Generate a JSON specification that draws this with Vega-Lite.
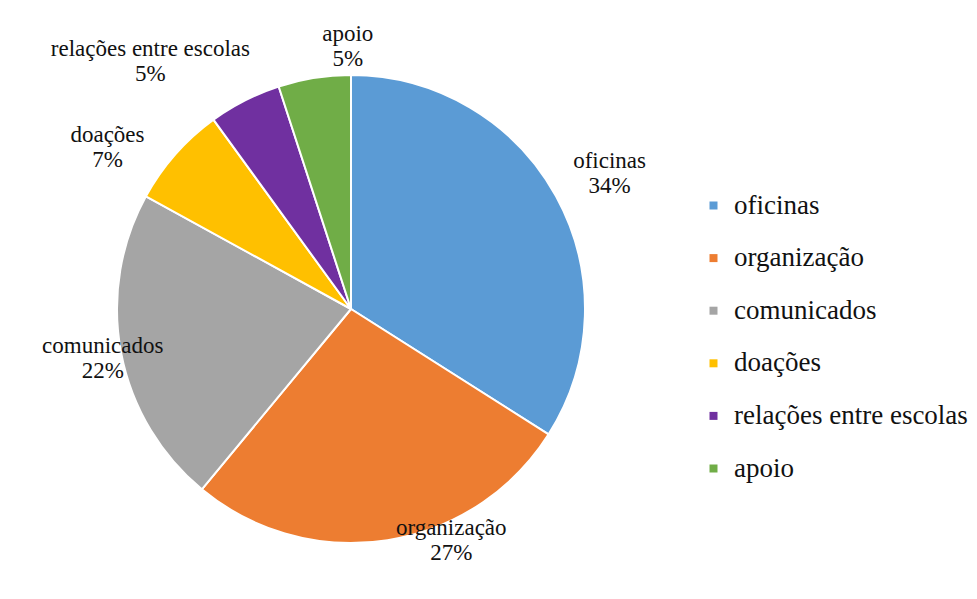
{
  "$schema": "https://vega.github.io/schema/vega-lite/v6.json",
  "width": 682,
  "height": 594,
  "autosize": {"type": "none"},
  "padding": {"left": 10, "top": 12, "right": 285, "bottom": 0},
  "background": "white",
  "config": {"view": {"stroke": null}, "text": {"font": "Liberation Serif", "fontSize": 23, "lineBreak": "\n", "color": "#111111", "lineHeight": 25, "radius": 270}},
  "data": {
    "values": [
      {"categoria": "oficinas", "valor": 34, "ordem": 1},
      {"categoria": "organização", "valor": 27, "ordem": 2},
      {"categoria": "comunicados", "valor": 22, "ordem": 3},
      {"categoria": "doações", "valor": 7, "ordem": 4},
      {"categoria": "relações entre escolas", "valor": 5, "ordem": 5},
      {"categoria": "apoio", "valor": 5, "ordem": 6}
    ]
  },
  "transform": [
    {"stack": "valor", "groupby": [], "sort": [{"field": "ordem", "order": "ascending"}], "as": ["v0", "v1"]},
    {"calculate": "(datum.v0 + datum.v1) / 2", "as": "meio"},
    {"calculate": "datum.categoria + '\\n' + datum.valor + '%'", "as": "rotulo"}
  ],
  "layer": [
    {
      "mark": {"type": "arc", "radius": 234, "stroke": "white", "strokeWidth": 2},
      "encoding": {
        "theta": {"field": "v0", "type": "quantitative", "scale": {"domain": [0, 100]}},
        "theta2": {"field": "v1"},
        "color": {
          "field": "categoria",
          "type": "nominal",
          "scale": {
            "domain": ["oficinas", "organização", "comunicados", "doações", "relações entre escolas", "apoio"],
            "range": ["#5B9BD5", "#ED7D31", "#A5A5A5", "#FFC000", "#7030A0", "#70AD47"]
          },
          "legend": {
            "title": null,
            "orient": "none",
            "legendX": 690,
            "legendY": 180,
            "symbolType": "square",
            "symbolSize": 64,
            "symbolStrokeWidth": 0,
            "labelFont": "Liberation Serif",
            "labelFontSize": 27,
            "labelColor": "#111111",
            "labelLimit": 400,
            "rowPadding": 24.6,
            "labelOffset": 7
          }
        }
      }
    },
    {
      "transform": [{"filter": "datum.ordem == 1"}],
      "mark": {"type": "text", "dx": 22, "dy": -18},
      "encoding": {"theta": {"field": "meio", "type": "quantitative", "scale": {"domain": [0, 100]}}, "text": {"field": "rotulo", "type": "nominal"}}
    },
    {
      "transform": [{"filter": "datum.ordem == 2"}],
      "mark": {"type": "text", "dx": 58, "dy": -48},
      "encoding": {"theta": {"field": "meio", "type": "quantitative", "scale": {"domain": [0, 100]}}, "text": {"field": "rotulo", "type": "nominal"}}
    },
    {
      "transform": [{"filter": "datum.ordem == 3"}],
      "mark": {"type": "text", "dx": 17, "dy": -14},
      "encoding": {"theta": {"field": "meio", "type": "quantitative", "scale": {"domain": [0, 100]}}, "text": {"field": "rotulo", "type": "nominal"}}
    },
    {
      "transform": [{"filter": "datum.ordem == 4"}],
      "mark": {"type": "text", "dx": -41, "dy": 5},
      "encoding": {"theta": {"field": "meio", "type": "quantitative", "scale": {"domain": [0, 100]}}, "text": {"field": "rotulo", "type": "nominal"}}
    },
    {
      "transform": [{"filter": "datum.ordem == 5"}],
      "mark": {"type": "text", "dx": -78, "dy": -19},
      "encoding": {"theta": {"field": "meio", "type": "quantitative", "scale": {"domain": [0, 100]}}, "text": {"field": "rotulo", "type": "nominal"}}
    },
    {
      "transform": [{"filter": "datum.ordem == 6"}],
      "mark": {"type": "text", "dx": 39, "dy": -8},
      "encoding": {"theta": {"field": "meio", "type": "quantitative", "scale": {"domain": [0, 100]}}, "text": {"field": "rotulo", "type": "nominal"}}
    }
  ]
}
